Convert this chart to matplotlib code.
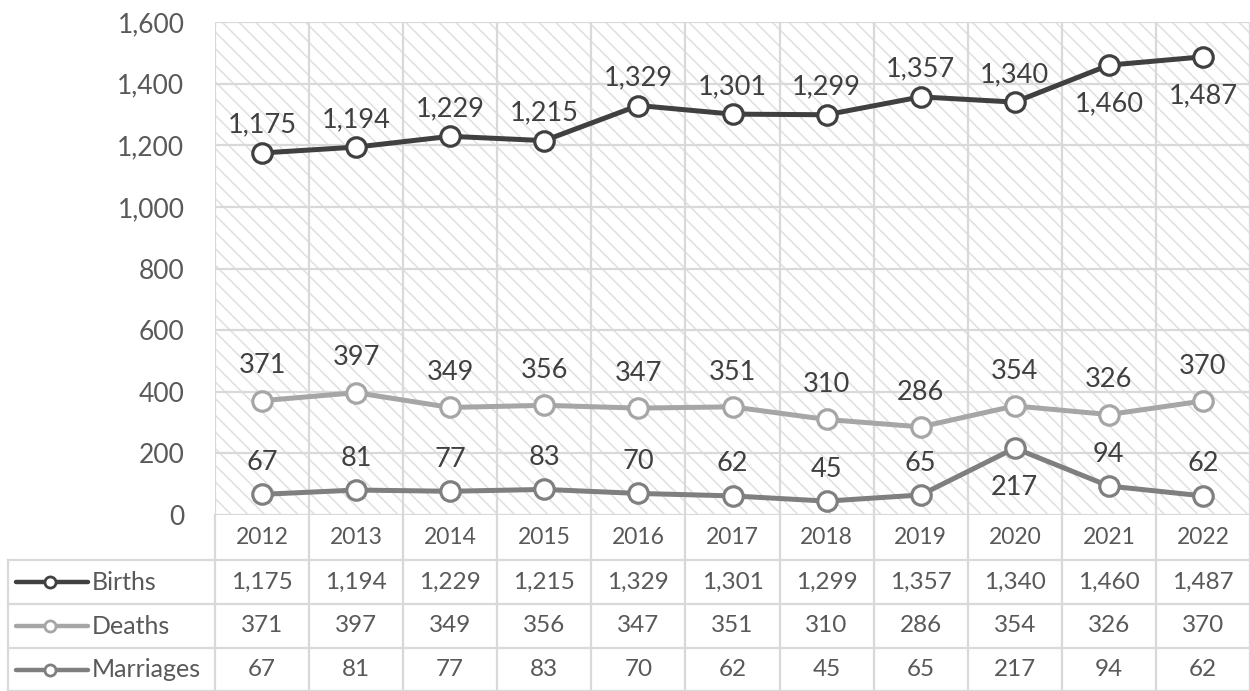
import matplotlib
matplotlib.use("Agg")
import matplotlib.pyplot as plt
from matplotlib.patches import Rectangle
from matplotlib.lines import Line2D
from matplotlib.transforms import blended_transform_factory
from matplotlib.ticker import FuncFormatter, MultipleLocator

plt.rcParams['font.family'] = ['Lato', 'DejaVu Sans']
plt.rcParams['hatch.linewidth'] = 1.1

years = [2012, 2013, 2014, 2015, 2016, 2017, 2018, 2019, 2020, 2021, 2022]
births = [1175, 1194, 1229, 1215, 1329, 1301, 1299, 1357, 1340, 1460, 1487]
deaths = [371, 397, 349, 356, 347, 351, 310, 286, 354, 326, 370]
marriages = [67, 81, 77, 83, 70, 62, 45, 65, 217, 94, 62]

series_names = ["Births", "Deaths", "Marriages"]
series_values = [births, deaths, marriages]
series_colors = ["#404040", "#a6a6a6", "#7f7f7f"]
# label placement: +1 above, -1 below
label_side = [
    [1, 1, 1, 1, 1, 1, 1, 1, 1, -1, -1],
    [1] * 11,
    [1, 1, 1, 1, 1, 1, 1, 1, -1, 1, 1],
]
above_offsets = [20, 25, 23]

W, H = 1250, 691
fig = plt.figure(figsize=(W / 100, H / 100), dpi=100)
fig.patch.set_facecolor("white")

L, R, T, B = 215, 1250, 22, 515
ax = fig.add_axes([L / W, (H - B) / H, (R - L) / W, (B - T) / H])
ax.set_xlim(-0.5, len(years) - 0.5)
ax.set_ylim(0, 1600)
ax.set_facecolor("white")

grid_col = "#d9d9d9"
text_col = "#595959"

# hatched background
bg = Rectangle((0, 0), 1, 1, transform=ax.transAxes, facecolor="white",
               edgecolor="#e0e0e0", hatch="\\\\", linewidth=0, zorder=0)
ax.add_patch(bg)

# gridlines
for yv in range(0, 1601, 200):
    ax.axhline(yv, color=grid_col, lw=1.6, zorder=1)
for i in range(len(years) + 1):
    ax.axvline(i - 0.5, color=grid_col, lw=1.6, zorder=1)

for s in ax.spines.values():
    s.set_visible(False)

ax.yaxis.set_major_locator(MultipleLocator(200))
ax.yaxis.set_major_formatter(FuncFormatter(lambda v, p: f"{int(v):,}"))
ax.tick_params(axis="y", length=0, pad=22, labelsize=19, labelcolor=text_col)
ax.set_xticks([])

xs = list(range(len(years)))
for vals, col, sides, off in zip(series_values, series_colors, label_side, above_offsets):
    ax.plot(xs, vals, color=col, lw=3.6, marker="o", markersize=14,
            markerfacecolor="white", markeredgecolor=col, markeredgewidth=2.3,
            zorder=3, solid_capstyle="round")
    for x, v, sd in zip(xs, vals, sides):
        dy = off if sd > 0 else -28
        ax.annotate(f"{v:,}", (x, v), xytext=(0, dy), textcoords="offset points",
                    ha="center", va="center", fontsize=19.5, color="#404040", zorder=4)

# data table below
tr = blended_transform_factory(ax.transData, fig.transFigure)
def fy(py):
    return 1 - py / H

row_edges = [515, 560, 604, 648, 691]
tab_left_px = 8
# horizontal lines
for k, py in enumerate(row_edges[1:], start=1):
    fig.add_artist(Line2D([tab_left_px / W, R / W], [fy(py), fy(py)],
                          transform=fig.transFigure, color=grid_col, lw=1.6))
# left border of label column
fig.add_artist(Line2D([tab_left_px / W, tab_left_px / W], [fy(row_edges[1]), fy(row_edges[-1])],
                      transform=fig.transFigure, color=grid_col, lw=1.6))
# vertical column lines
for i in range(len(years) + 1):
    fig.add_artist(Line2D([i - 0.5, i - 0.5], [fy(row_edges[0]), fy(row_edges[-1])],
                          transform=tr, color=grid_col, lw=1.6))

# year row
yc = fy((row_edges[0] + row_edges[1]) / 2)
for x, yr in zip(xs, years):
    fig.text(x, yc, str(yr), transform=tr, ha="center", va="center",
             fontsize=16.5, color=text_col)

# series rows
for r, (name, vals, col) in enumerate(zip(series_names, series_values, series_colors)):
    yc = fy((row_edges[r + 1] + row_edges[r + 2]) / 2)
    for x, v in zip(xs, vals):
        fig.text(x, yc, f"{v:,}", transform=tr, ha="center", va="center",
                 fontsize=17.5, color=text_col)
    fig.add_artist(Line2D([16 / W, 88 / W], [yc, yc], transform=fig.transFigure,
                          color=col, lw=3.2, solid_capstyle="round"))
    fig.add_artist(Line2D([50 / W], [yc], transform=fig.transFigure, marker="o",
                          markersize=8, markerfacecolor="white", markeredgecolor=col,
                          markeredgewidth=2, linestyle="none"))
    fig.text(92 / W, yc, name, transform=fig.transFigure, ha="left", va="center",
             fontsize=18, color=text_col)

fig.savefig("out.png", dpi=100, facecolor="white")
